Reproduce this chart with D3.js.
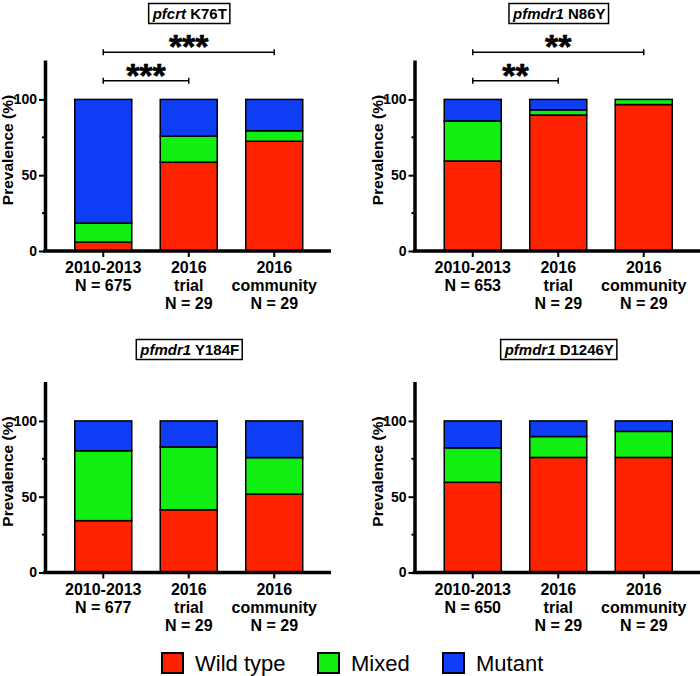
<!DOCTYPE html>
<html>
<head>
<meta charset="utf-8">
<script src="https://cdn.jsdelivr.net/npm/d3@7"></script>
<style>
  body { margin: 0; background: #fff; }
  svg { font-family: "Liberation Sans", Arial, sans-serif; }
</style>
</head>
<body>
<script>
// chart data
var genes = ["pfcrt", "pfmdr1", "pfmdr1", "pfmdr1"];
var mutations = ["K76T", "N86Y", "Y184F", "D1246Y"];
var groups = ["2010-2013", "2016 trial", "2016 community"];
var groupLines = [["2010-2013"], ["2016", "trial"], ["2016", "community"]];
var sampleN = [[675, 29, 29], [653, 29, 29], [677, 29, 29], [650, 29, 29]];

var wildType = [[5.9, 58.6, 72.4], [59.4, 89.7, 96.6], [34.2, 41.4, 51.7], [59.5, 75.9, 75.9]];
var mixed    = [[12.5, 17.2, 6.9], [26.4, 3.4, 3.4], [46.1, 41.4, 24.1], [22.7, 13.8, 17.2]];
var mutant   = [[81.6, 24.2, 20.7], [14.2, 6.9, 0], [19.7, 17.2, 24.2], [17.8, 10.3, 6.9]];

var seriesNames = ["Wild type", "Mixed", "Mutant"];
var seriesColors = ["#ff2200", "#11ee11", "#0f3cf5"];
var yTicks = [0, 50, 100];
var yMinor = [25, 75];

// significance brackets: [from group, to group, stars]
var signif = [
  [[0, 1, "***"], [0, 2, "***"]],
  [[0, 1, "**"], [0, 2, "**"]],
  [],
  []
];

var svg = d3.select("body").append("svg")
  .attr("width", 700)
  .attr("height", 676);

var panelX = [45, 414.5, 45, 414.5];
var panelY0 = [251, 251, 572.5, 572.5];
var titleY = [3.5, 3.5, 339.5, 339.5];

for (var p = 0; p < 4; p++) {
  drawPanel(p);
}

function drawPanel(p) {
  var ox = panelX[p], y0 = panelY0[p];
  var g = svg.append("g");

  var y = d3.scaleLinear().domain([0, 126]).range([y0, y0 - 191]);
  var x = d3.scaleBand().domain(groups)
    .range([ox + 15.5, ox + 272])
    .paddingInner(0.333).paddingOuter(0.1667);

  var rows = groups.map(function(grp, i) {
    return { group: grp, wild: wildType[p][i], mixed: mixed[p][i], mutant: mutant[p][i] };
  });
  var stack = d3.stack().keys(["wild", "mixed", "mutant"])(rows);

  g.selectAll("g.series")
    .data(stack)
    .enter().append("g")
    .attr("fill", function(d, i) { return seriesColors[i]; })
    .selectAll("rect")
    .data(function(d) { return d.filter(function(s) { return s[1] - s[0] > 0; }); })
    .enter().append("rect")
    .attr("x", function(d) { return x(d.data.group); })
    .attr("width", x.bandwidth())
    .attr("y", function(d) { return y(d[1]); })
    .attr("height", function(d) { return y(d[0]) - y(d[1]); })
    .attr("stroke", "#000")
    .attr("stroke-width", 1.5);

  // y axis
  var yAxis = g.append("g")
    .attr("transform", "translate(" + ox + ",0)")
    .call(d3.axisLeft(y).tickValues(yTicks).tickSize(6).tickSizeOuter(0).tickPadding(2));
  yAxis.select(".domain").attr("stroke-width", 3.5);
  yAxis.selectAll(".tick line").attr("stroke-width", 2);
  yAxis.selectAll(".tick text")
    .attr("font-size", 14).attr("font-weight", "bold").attr("fill", "#000")
    .attr("font-family", "Liberation Sans, Arial, sans-serif");
  yAxis.selectAll(".minor")
    .data(yMinor).enter().append("line")
    .attr("class", "minor")
    .attr("x1", -3).attr("x2", 0)
    .attr("y1", function(d) { return y(d); })
    .attr("y2", function(d) { return y(d); })
    .attr("stroke", "#000").attr("stroke-width", 2);

  // x axis line
  g.append("line")
    .attr("x1", ox - 1.75).attr("x2", ox + 286)
    .attr("y1", y0).attr("y2", y0)
    .attr("stroke", "#000").attr("stroke-width", 3.5);

  var xAxis = g.append("g")
    .attr("transform", "translate(0," + y0 + ")")
    .call(d3.axisBottom(x).tickSize(6).tickSizeOuter(0).tickFormat(""));
  xAxis.select(".domain").remove();
  xAxis.selectAll(".tick line").attr("stroke-width", 2);

  // category labels
  groups.forEach(function(grp, i) {
    var lines = groupLines[i].concat(["N = " + sampleN[p][i]]);
    var t = g.append("text")
      .attr("text-anchor", "middle")
      .attr("font-size", 16).attr("font-weight", "bold")
      .attr("x", x(grp) + x.bandwidth() / 2);
    lines.forEach(function(l, k) {
      t.append("tspan")
        .attr("x", x(grp) + x.bandwidth() / 2)
        .attr("y", y0 + 22 + k * 18.2)
        .text(l);
    });
  });

  // y label
  g.append("text")
    .attr("transform", "translate(" + (ox - 32) + "," + (y0 - 101) + ") rotate(-90)")
    .attr("text-anchor", "middle")
    .attr("font-size", 15.5).attr("font-weight", "bold")
    .text("Prevalence (%)");

  // title box
  var cx = x(groups[1]) + x.bandwidth() / 2;
  var title = g.append("text")
    .attr("text-anchor", "middle")
    .attr("x", cx + 1).attr("y", titleY[p] + 15.5)
    .attr("font-size", 15).attr("font-weight", "bold");
  title.append("tspan").attr("font-style", "italic").text(genes[p]);
  title.append("tspan").text(" " + mutations[p]);
  var bb = title.node().getBBox();
  g.insert("rect", function() { return title.node(); })
    .attr("x", bb.x - 3).attr("width", bb.width + 6)
    .attr("y", titleY[p]).attr("height", 20)
    .attr("fill", "#fff").attr("stroke", "#000").attr("stroke-width", 1.5);

  // significance brackets
  var levels = [80.7, 52.3];
  signif[p].forEach(function(s, k) {
    var xa = x(groups[s[0]]) + x.bandwidth() / 2;
    var xb = x(groups[s[1]]) + x.bandwidth() / 2;
    var by = levels[k];
    g.append("path")
      .attr("d", "M" + xa + "," + (by - 3) + "V" + (by + 3) + "M" + xa + "," + by + "H" + xb + "M" + xb + "," + (by - 3) + "V" + (by + 3))
      .attr("fill", "none").attr("stroke", "#000").attr("stroke-width", 1.5);
    g.append("text")
      .attr("text-anchor", "middle")
      .attr("x", (xa + xb) / 2).attr("y", by + 6)
      .attr("font-size", 34).attr("font-weight", "bold")
      .attr("stroke", "#000").attr("stroke-width", 0.6)
      .text(s[2]);
  });
}

// legend
var legendX = [162, 318, 443];
var legend = svg.append("g");
seriesNames.forEach(function(name, i) {
  legend.append("rect")
    .attr("x", legendX[i]).attr("y", 653)
    .attr("width", 21).attr("height", 20)
    .attr("fill", seriesColors[i])
    .attr("stroke", "#000").attr("stroke-width", 2);
  legend.append("text")
    .attr("x", legendX[i] + 33).attr("y", 671)
    .attr("font-size", 22)
    .text(name);
});
</script>
</body>
</html>
